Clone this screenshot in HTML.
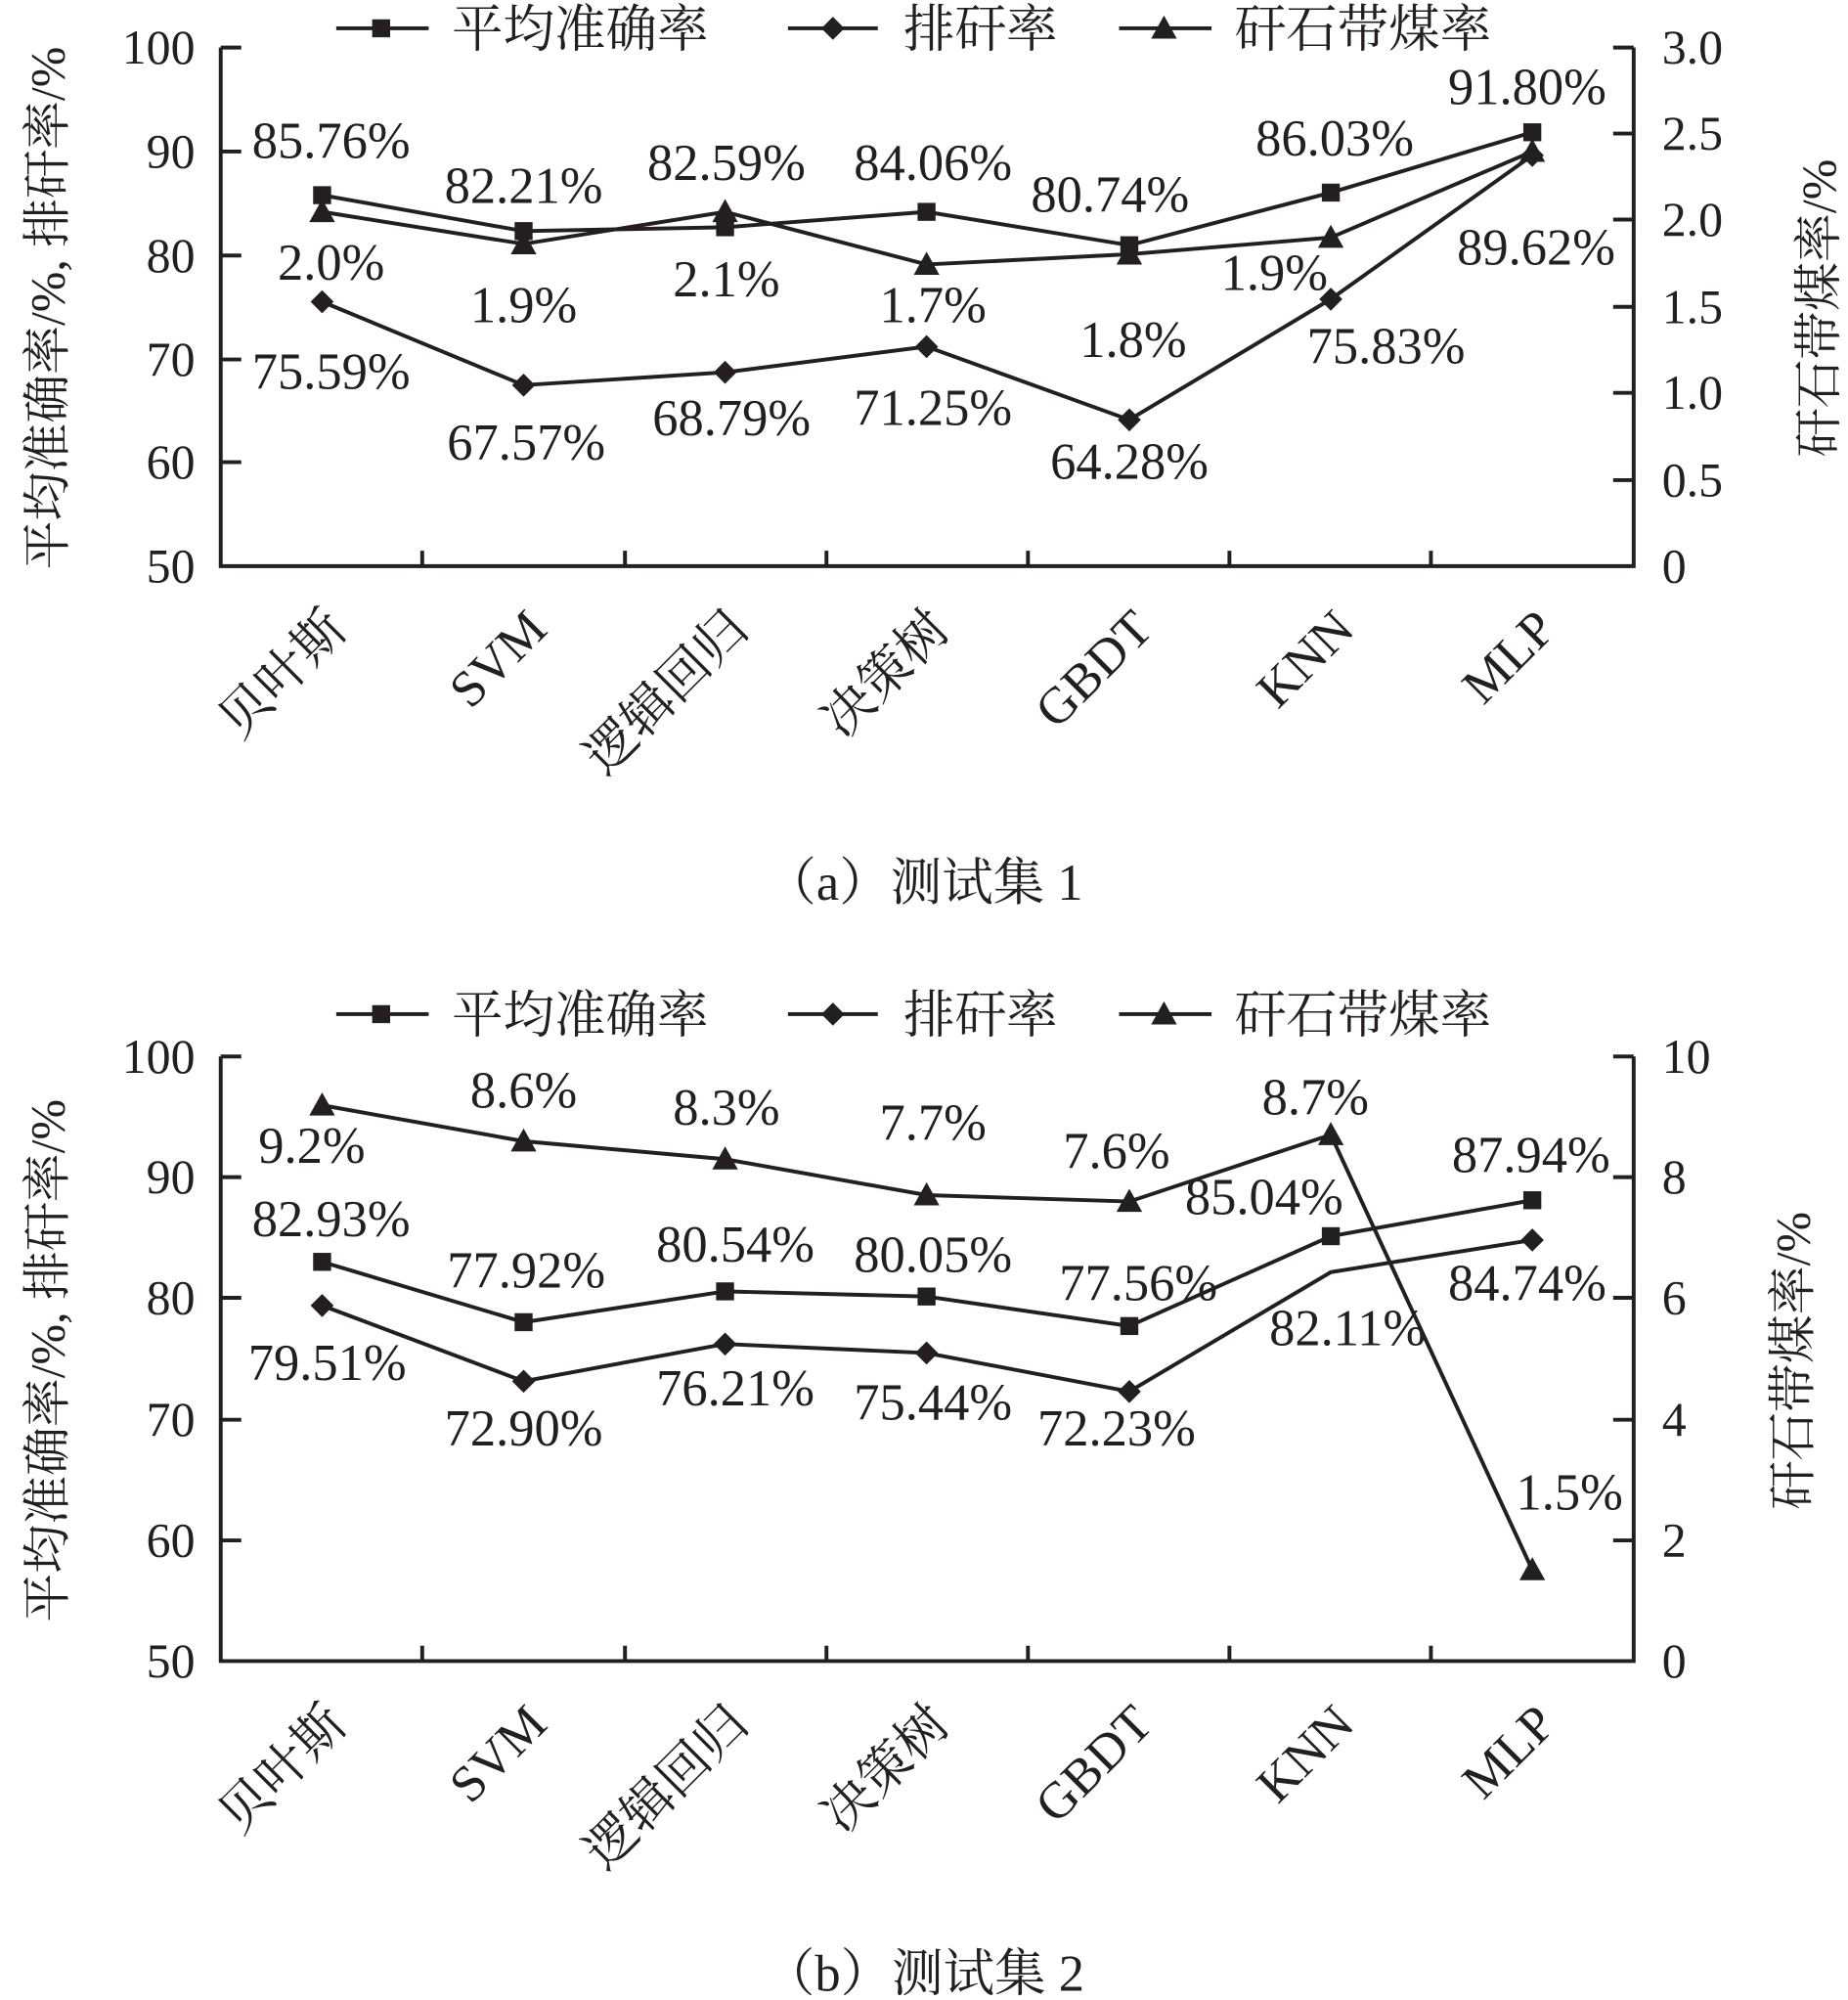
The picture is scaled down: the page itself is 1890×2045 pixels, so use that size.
<!DOCTYPE html>
<html><head><meta charset="utf-8"><style>
html,body{margin:0;padding:0;background:#fff;}
svg{display:block;}
text{font-family:"Liberation Serif","Noto Serif CJK SC",serif;fill:#231f20;}
</style></head><body>
<svg width="1890" height="2045" viewBox="0 0 1440 1558" xmlns="http://www.w3.org/2000/svg">
<defs>
<g id="sq"><rect x="-7" y="-7" width="14" height="14" fill="#231f20"/></g>
<g id="dm"><polygon points="0,-9 9,0 0,9 -9,0" fill="#231f20"/></g>
<g id="tr"><polygon points="0,-10 10,8 -10,8" fill="#231f20"/></g>
</defs>
<g stroke="#231f20" stroke-width="3" fill="none">
<!-- chart a axes -->
<path d="M172,37 V441 H1273 V37"/>
<path d="M172,37h16M172,118h16M172,199h16M172,280h16M172,360h16"/>
<path d="M1273,37h-16M1273,104h-16M1273,171h-16M1273,239h-16M1273,306h-16M1273,374h-16"/>
<path d="M329,441v-12M487,441v-12M644,441v-12M801,441v-12M958,441v-12M1115,441v-12"/>
<!-- chart b axes -->
<path d="M172,823 V1294 H1273 V823"/>
<path d="M172,823h16M172,917h16M172,1011h16M172,1106h16M172,1200h16"/>
<path d="M1273,823h-16M1273,917h-16M1273,1011h-16M1273,1106h-16M1273,1200h-16"/>
<path d="M329,1294v-12M487,1294v-12M644,1294v-12M801,1294v-12M958,1294v-12M1115,1294v-12"/>
<!-- legends -->
<path d="M262,22h72M614,22h70M872,22h72"/>
<path d="M262,790h72M614,790h70M872,790h72"/>
<!-- series a -->
<polyline points="251,152 408,180 565,177 722,165 880,191 1037,150 1194,103"/>
<polyline points="251,235 408,300 565,290 722,270 880,327 1037,233 1194,121"/>
<polyline points="251,165 408,190 565,165 722,206 880,198 1037,185 1194,118"/>
<!-- series b -->
<polyline points="251,983 408,1030 565,1006 722,1010 880,1033 1037,963 1194,935"/>
<polyline points="251,1017 408,1076 565,1047 722,1054 880,1084 1037,991 1194,966"/>
<polyline points="251,861 408,889 565,903 722,931 880,936 1037,884 1194,1223"/>
</g>
<!-- markers -->
<g>
<use href="#sq" x="297" y="22"/><use href="#dm" x="649" y="22"/><use href="#tr" x="907" y="22"/>
<use href="#sq" x="297" y="790"/><use href="#dm" x="649" y="790"/><use href="#tr" x="907" y="790"/>
<use href="#sq" x="251" y="152"/><use href="#sq" x="408" y="180"/><use href="#sq" x="565" y="177"/><use href="#sq" x="722" y="165"/><use href="#sq" x="880" y="191"/><use href="#sq" x="1037" y="150"/><use href="#sq" x="1194" y="103"/>
<use href="#dm" x="251" y="235"/><use href="#dm" x="408" y="300"/><use href="#dm" x="565" y="290"/><use href="#dm" x="722" y="270"/><use href="#dm" x="880" y="327"/><use href="#dm" x="1037" y="233"/><use href="#dm" x="1194" y="121"/>
<use href="#tr" x="251" y="165"/><use href="#tr" x="408" y="190"/><use href="#tr" x="565" y="165"/><use href="#tr" x="722" y="206"/><use href="#tr" x="880" y="198"/><use href="#tr" x="1037" y="185"/><use href="#tr" x="1194" y="118"/>
<use href="#sq" x="251" y="983"/><use href="#sq" x="408" y="1030"/><use href="#sq" x="565" y="1006"/><use href="#sq" x="722" y="1010"/><use href="#sq" x="880" y="1033"/><use href="#sq" x="1037" y="963"/><use href="#sq" x="1194" y="935"/>
<use href="#dm" x="251" y="1017"/><use href="#dm" x="408" y="1076"/><use href="#dm" x="565" y="1047"/><use href="#dm" x="722" y="1054"/><use href="#dm" x="880" y="1084"/><use href="#dm" x="1194" y="966"/>
<use href="#tr" x="251" y="861"/><use href="#tr" x="408" y="889"/><use href="#tr" x="565" y="903"/><use href="#tr" x="722" y="931"/><use href="#tr" x="880" y="936"/><use href="#tr" x="1037" y="884"/><use href="#tr" x="1194" y="1223"/>
</g>
<g font-size="40">
<text x="352" y="36">平均准确率</text><text x="704" y="36">排矸率</text><text x="962" y="36">矸石带煤率</text>
<text x="352" y="804">平均准确率</text><text x="704" y="804">排矸率</text><text x="962" y="804">矸石带煤率</text>
</g>
<g font-size="38" text-anchor="end" dominant-baseline="central">
<text x="152" y="37">100</text><text x="152" y="118">90</text><text x="152" y="199">80</text><text x="152" y="280">70</text><text x="152" y="360">60</text><text x="152" y="441">50</text>
<text x="152" y="823">100</text><text x="152" y="917">90</text><text x="152" y="1011">80</text><text x="152" y="1106">70</text><text x="152" y="1200">60</text><text x="152" y="1294">50</text>
</g>
<g font-size="38" dominant-baseline="central">
<text x="1295" y="37">3.0</text><text x="1295" y="104">2.5</text><text x="1295" y="171">2.0</text><text x="1295" y="239">1.5</text><text x="1295" y="306">1.0</text><text x="1295" y="374">0.5</text><text x="1295" y="441">0</text>
<text x="1295" y="823">10</text><text x="1295" y="917">8</text><text x="1295" y="1011">6</text><text x="1295" y="1106">4</text><text x="1295" y="1200">2</text><text x="1295" y="1294">0</text>
</g>
<g font-size="38" text-anchor="middle">
<text transform="translate(50,240) rotate(-90)">平均准确率/%, 排矸率/%</text>
<text transform="translate(1430,240) rotate(-90)">矸石带煤率/%</text>
<text transform="translate(50,1060) rotate(-90)">平均准确率/%, 排矸率/%</text>
<text transform="translate(1410,1060) rotate(-90)">矸石带煤率/%</text>
</g>
<g font-size="40" text-anchor="end">
<text transform="translate(272,492) rotate(-45)">贝叶斯</text>
<text transform="translate(428,492) rotate(-45)">SVM</text>
<text transform="translate(585,492) rotate(-45)">逻辑回归</text>
<text transform="translate(742,492) rotate(-45)">决策树</text>
<text transform="translate(900,492) rotate(-45)">GBDT</text>
<text transform="translate(1057,492) rotate(-45)">KNN</text>
<text transform="translate(1214,492) rotate(-45)">MLP</text>
<text transform="translate(272,1345) rotate(-45)">贝叶斯</text>
<text transform="translate(428,1345) rotate(-45)">SVM</text>
<text transform="translate(585,1345) rotate(-45)">逻辑回归</text>
<text transform="translate(742,1345) rotate(-45)">决策树</text>
<text transform="translate(900,1345) rotate(-45)">GBDT</text>
<text transform="translate(1057,1345) rotate(-45)">KNN</text>
<text transform="translate(1214,1345) rotate(-45)">MLP</text>
</g>
<g font-size="40" text-anchor="middle" dominant-baseline="central">
<text x="258" y="110">85.76%</text><text x="408" y="145">82.21%</text><text x="566" y="127">82.59%</text><text x="727" y="127">84.06%</text><text x="865" y="152">80.74%</text><text x="1040" y="108">86.03%</text><text x="1190" y="68">91.80%</text>
<text x="258" y="205">2.0%</text><text x="408" y="238">1.9%</text><text x="566" y="218">2.1%</text><text x="727" y="238">1.7%</text><text x="883" y="265">1.8%</text><text x="993" y="213">1.9%</text><text x="1197" y="193">89.62%</text>
<text x="258" y="290">75.59%</text><text x="410" y="345">67.57%</text><text x="570" y="326">68.79%</text><text x="727" y="318">71.25%</text><text x="880" y="360">64.28%</text><text x="1080" y="270">75.83%</text>
<text x="243" y="893">9.2%</text><text x="408" y="850">8.6%</text><text x="566" y="863">8.3%</text><text x="727" y="875">7.7%</text><text x="870" y="897">7.6%</text><text x="1025" y="855">8.7%</text><text x="1223" y="1163">1.5%</text>
<text x="258" y="950">82.93%</text><text x="410" y="990">77.92%</text><text x="573" y="970">80.54%</text><text x="727" y="978">80.05%</text><text x="887" y="1000">77.56%</text><text x="985" y="933">85.04%</text><text x="1193" y="900">87.94%</text>
<text x="255" y="1062">79.51%</text><text x="408" y="1113">72.90%</text><text x="573" y="1082">76.21%</text><text x="727" y="1093">75.44%</text><text x="870" y="1113">72.23%</text><text x="1050" y="1035">82.11%</text><text x="1190" y="1000">84.74%</text>
</g>
<g font-size="40" text-anchor="middle" dominant-baseline="central">
<text x="720" y="688">（a）测试集 1</text>
<text x="720" y="1538">（b）测试集 2</text>
</g>
</svg>
</body></html>
